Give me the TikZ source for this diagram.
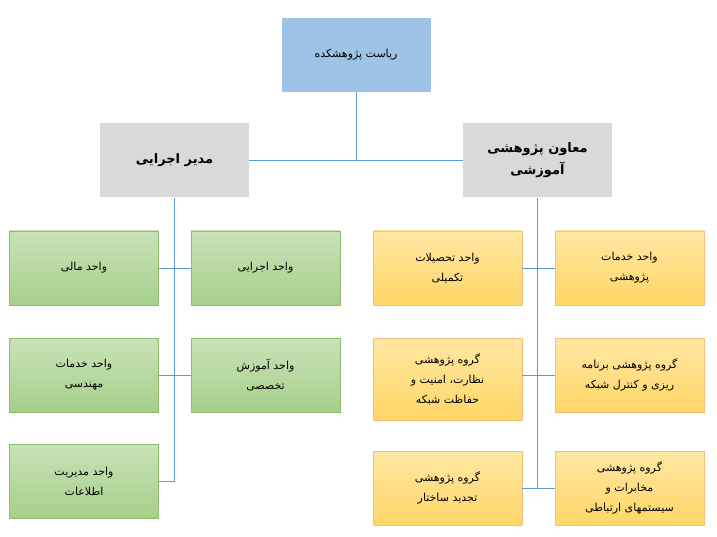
\documentclass[tikz,border=0pt]{standalone}
\usepackage{fontspec}
\newfontfamily\fafont[Script=Arabic]{DejaVu Sans}
\TeXXeTstate=1
\newcommand{\fa}[1]{\beginR #1\endR}
\definecolor{topblue}{HTML}{9DC3E6}
\definecolor{boxgray}{HTML}{D9D9D9}
\definecolor{greentop}{HTML}{C9E2B8}
\definecolor{greenbot}{HTML}{A6CF8A}
\definecolor{greenline}{HTML}{8CBF6C}
\definecolor{yellowtop}{HTML}{FFE7A3}
\definecolor{yellowbot}{HTML}{FFD666}
\definecolor{yellowline}{HTML}{F4C07A}
\definecolor{linkblue}{HTML}{5B9BD5}
\begin{document}
\begin{tikzpicture}[x=1pt,y=-1pt,
  base/.style={minimum width=149pt,minimum height=74pt,align=center,font=\fafont\fontsize{11}{20}\selectfont},
  headbox/.style={base,fill=topblue},
  chiefbox/.style={base,fill=boxgray,font=\fafont\bfseries\fontsize{13}{22}\selectfont},
  unitbox/.style={base,top color=greentop,bottom color=greenbot,draw=greenline},
  groupbox/.style={base,top color=yellowtop,bottom color=yellowbot,draw=yellowline},
  link/.style={linkblue,line width=0.8pt}]
\useasboundingbox (0,0) rectangle (717,537);
% head and chiefs
\node[headbox] (head) at (356,55) {\fa{ریاست پژوهشکده}};
\node[chiefbox] (exec) at (174.5,160.5) {\fa{مدیر اجرایی}};
\node[chiefbox] (vice) at (537.5,160.5) {\fa{معاون پژوهشی}\\\fa{آموزشی}};
% executive units
\node[unitbox] (money) at (84,268) {\fa{واحد مالی}};
\node[unitbox] (run) at (265.5,268) {\fa{واحد اجرایی}};
\node[unitbox] (eng) at (84,375) {\fa{واحد خدمات}\\\fa{مهندسی}};
\node[unitbox] (train) at (265.5,375) {\fa{واحد آموزش}\\\fa{تخصصی}};
\node[unitbox] (info) at (84,481) {\fa{واحد مدیریت}\\\fa{اطلاعات}};
% research groups
\node[groupbox] (grad) at (447.5,268) {\fa{واحد تحصیلات}\\\fa{تکمیلی}};
\node[groupbox] (serv) at (629.5,268) {\fa{واحد خدمات}\\\fa{پژوهشی}};
\node[groupbox,minimum height=82pt] (guard) at (447.5,379) {\fa{گروه پژوهشی}\\\fa{نظارت، امنیت و}\\\fa{حفاظت شبکه}};
\node[groupbox] (plan) at (629.5,375) {\fa{گروه پژوهشی برنامه}\\\fa{ریزی و کنترل شبکه}};
\node[groupbox] (rebuild) at (447.5,488) {\fa{گروه پژوهشی}\\\fa{تجدید ساختار}};
\node[groupbox] (comm) at (629.5,488) {\fa{گروه پژوهشی}\\\fa{مخابرات و}\\\fa{سیستمهای ارتباطی}};
% links
\draw[link] (head.south) -- (head.south |- exec.east);
\draw[link] (exec.east) -- (vice.west);
\draw[link] (exec.south) -- (exec.south |- info.east);
\draw[link] (money.east) -- (run.west);
\draw[link] (eng.east) -- (train.west);
\draw[link] (info.east) -- (exec.south |- info.east);
\draw[link] (vice.south) -- (vice.south |- rebuild.east);
\draw[link] (grad.east) -- (serv.west);
\draw[link] (guard.east |- plan.west) -- (plan.west);
\draw[link] (rebuild.east) -- (comm.west);
\end{tikzpicture}
\end{document}
